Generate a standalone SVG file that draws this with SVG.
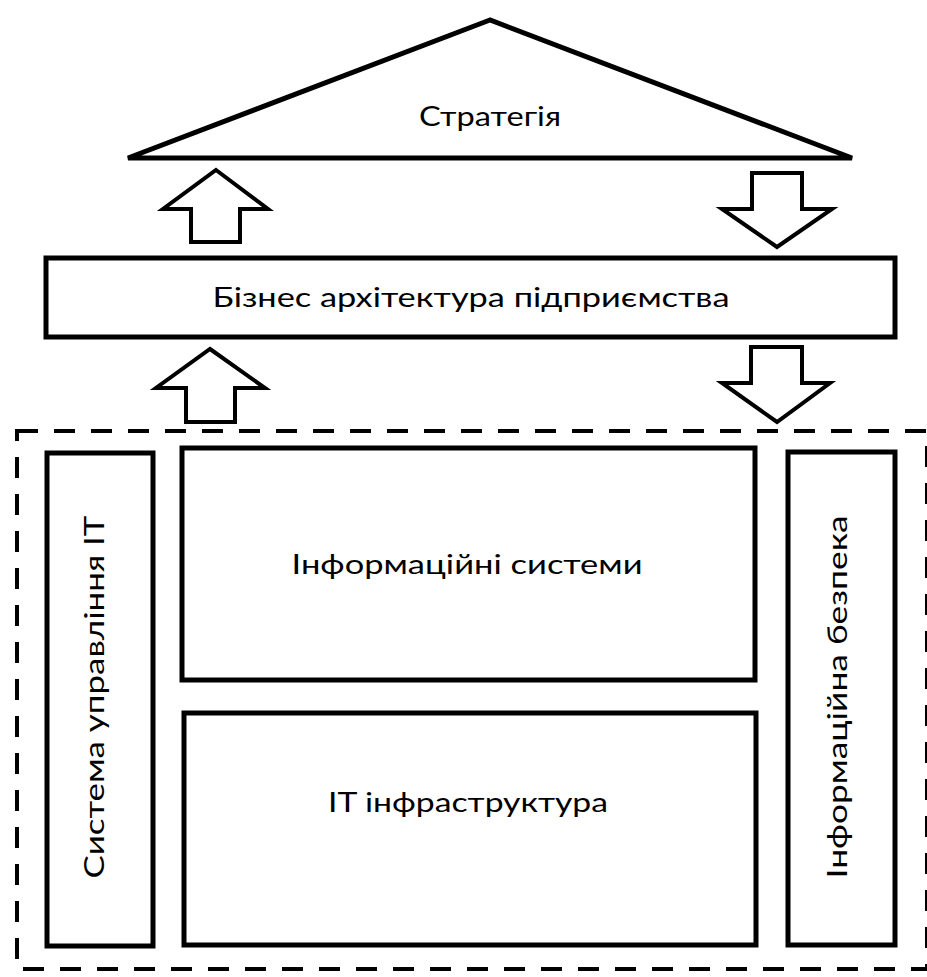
<svg xmlns="http://www.w3.org/2000/svg" width="927" height="977" viewBox="0 0 927 977">
<style>
.s{fill:#fff;stroke:#000;stroke-width:5;stroke-linejoin:miter}
.a{fill:#fff;stroke:#000;stroke-width:4;stroke-linejoin:miter}
.d{fill:none;stroke:#000;stroke-width:4;stroke-dasharray:21 16}
.t{font-family:Lato,"Open Sans","Liberation Sans",sans-serif;font-size:27px;fill:#000;text-anchor:middle}
</style>
<rect width="927" height="977" fill="#fff"/>
<g id="strategy">
<polygon class="s" points="490,20 128,158 852,158"/>
<text class="t" x="490" y="126" textLength="142" lengthAdjust="spacingAndGlyphs">Стратегія</text>
</g>
<g id="business">
<rect class="s" x="46" y="258" width="849" height="79"/>
<text class="t" x="471" y="307" textLength="517" lengthAdjust="spacingAndGlyphs">Бізнес архітектура підприємства</text>
</g>
<g id="connectors">
<polygon class="a" points="216,170 268,209 240,209 240,242 191,242 191,209 163,209"/>
<polygon class="a" points="752,173 802,173 802,209 832,209 777,247 722,209 752,209"/>
<polygon class="a" points="210,349 265,388 235,388 235,422 186,422 186,388 156,388"/>
<polygon class="a" points="751,347 802,347 802,383 830,383 777,422 722,383 751,383"/>
</g>
<g id="it-domain">
<rect class="d" x="17" y="431" width="910" height="538"/>
</g>
<g id="it-governance">
<rect class="s" x="47" y="453" width="106" height="493"/>
<text class="t" transform="translate(104,697) rotate(-90)" x="0" y="0" textLength="363" lengthAdjust="spacingAndGlyphs">Система управління IT</text>
</g>
<g id="info-systems">
<rect class="s" x="182" y="448" width="573" height="232"/>
<text class="t" x="467" y="574" textLength="351" lengthAdjust="spacingAndGlyphs">Інформаційні системи</text>
</g>
<g id="it-infrastructure">
<rect class="s" x="184" y="713" width="572" height="232"/>
<text class="t" x="468" y="812" textLength="280" lengthAdjust="spacingAndGlyphs">IT інфраструктура</text>
</g>
<g id="info-security">
<rect class="s" x="788" y="452" width="107" height="493"/>
<text class="t" transform="translate(847,697) rotate(-90)" x="0" y="0" textLength="363" lengthAdjust="spacingAndGlyphs">Інформаційна безпека</text>
</g>
</svg>
